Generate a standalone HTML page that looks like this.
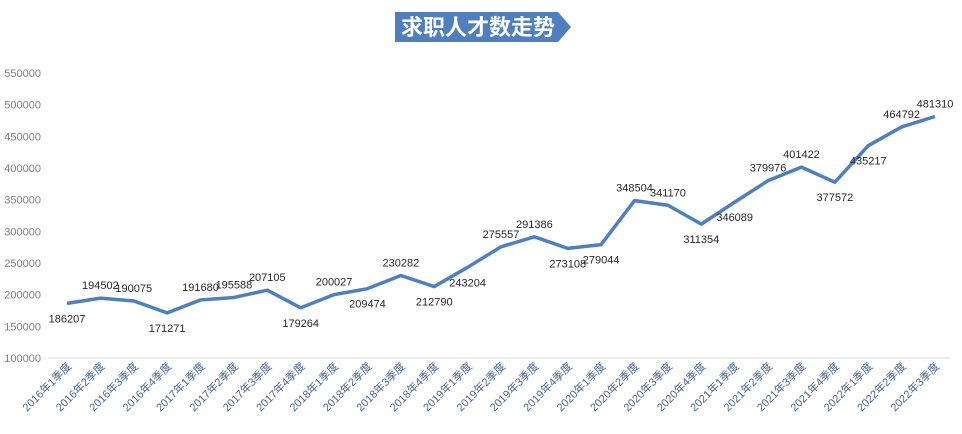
<!DOCTYPE html>
<html><head><meta charset="utf-8"><style>
body{margin:0;background:#fff;width:962px;height:429px;overflow:hidden;font-family:"Liberation Sans","Noto Sans CJK SC",sans-serif}
</style></head><body>
<svg id="chart" width="962" height="429" xmlns="http://www.w3.org/2000/svg">
<g>
<polygon points="395,12 558,12 571,27 558,42 395,42" fill="#4f7fbf"/>
<text x="478" y="35" text-anchor="middle" font-size="22" font-weight="bold" fill="#fff" font-family="'Noto Sans CJK SC',sans-serif">求职人才数走势</text>
</g>
<g id="axes"></g><g id="marks"></g>
</svg>
<script>
const categories=["2016年1季度","2016年2季度","2016年3季度","2016年4季度","2017年1季度","2017年2季度","2017年3季度","2017年4季度","2018年1季度","2018年2季度","2018年3季度","2018年4季度","2019年1季度","2019年2季度","2019年3季度","2019年4季度","2020年1季度","2020年2季度","2020年3季度","2020年4季度","2021年1季度","2021年2季度","2021年3季度","2021年4季度","2022年1季度","2022年2季度","2022年3季度"];
const values=[186207,194502,190075,171271,191680,195588,207105,179264,200027,209474,230282,212790,243204,275557,291386,273108,279044,348504,341170,311354,346089,379976,401422,377572,435217,464792,481310];
const labelSide=[-1,1,1,-1,1,1,1,-1,1,-1,1,-1,-1,1,1,-1,-1,1,1,-1,-1,1,1,-1,-1,1,1];
const yTicks=[100000,150000,200000,250000,300000,350000,400000,450000,500000,550000];
const NS="http://www.w3.org/2000/svg";
const x=i=>67+i*(935-67)/(categories.length-1);
const y=v=>358-(v-100000)/450000*285;
const axes=document.getElementById('axes'),marks=document.getElementById('marks');
function mk(t,a,p){const e=document.createElementNS(NS,t);for(const k in a)e.setAttribute(k,a[k]);p.appendChild(e);return e;}
const base=mk('line',{x1:48,x2:950,y1:358,y2:358,stroke:'#d9d9d9'},axes);


yTicks.forEach(v=>{const t=mk('text',{x:41,y:y(v)+4,'text-anchor':'end','font-size':11,fill:'#7f7f7f'},axes);t.textContent=v;

});
categories.forEach((c,i)=>{const t=mk('text',{x:x(i)+5,y:367,'text-anchor':'end','font-size':11,fill:'#4a6590',transform:`rotate(-45 ${x(i)+5} 367)`},axes);t.textContent=c;

});
const line=mk('polyline',{points:values.map((v,i)=>x(i)+','+y(v)).join(' '),fill:'none',stroke:'#4f7fbf','stroke-width':3.5,'stroke-linejoin':'round'},marks);


values.forEach((v,i)=>{const t=mk('text',{x:x(i),y:y(v)+(labelSide[i]>0?-9:19),'text-anchor':'middle','font-size':11,fill:'#262626'},marks);t.textContent=v;

});
</script>
</body></html>
